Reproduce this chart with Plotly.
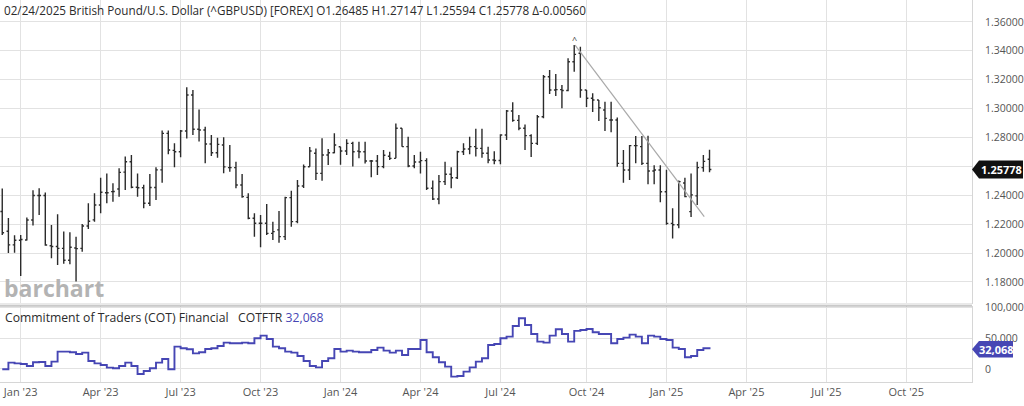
import pandas as pd
import plotly.graph_objects as go

# ---------------- data ----------------
first_week = "2022-12-12"
n_weeks = 116
dates = pd.date_range(first_week, periods=n_weeks, freq="7D")

opens = [1.2287,1.2150,1.2056,1.2088,1.2090,1.2228,1.2398,1.2398,1.2050,1.2045,
         1.2032,1.1950,1.2035,1.2032,1.2187,1.2229,1.2332,1.2417,1.2425,1.2443,
         1.2560,1.2632,1.2455,1.2452,1.2344,1.2453,1.2575,1.2828,1.2710,1.2701,
         1.2844,1.3093,1.2856,1.2851,1.2754,1.2694,1.2747,1.2591,1.2591,1.2471,
         1.2385,1.2240,1.2206,1.2206,1.2136,1.2160,1.2113,1.2383,1.2217,1.2464,
         1.2597,1.2690,1.2551,1.2678,1.2694,1.2735,1.2706,1.2759,1.2705,1.2701,
         1.2637,1.2637,1.2598,1.2670,1.2655,1.2863,1.2736,1.2602,1.2630,1.2639,
         1.2448,1.2374,1.2494,1.2545,1.2521,1.2701,1.2720,1.2736,1.2724,1.2690,
         1.2644,1.2640,1.2817,1.2983,1.2918,1.2863,1.2812,1.2759,1.2943,1.3220,
         1.3128,1.3131,1.3125,1.3324,1.3382,1.3128,1.3071,1.3059,1.2990,1.2920,
         1.2920,1.2620,1.2574,1.2743,1.2736,1.2620,1.2568,1.2574,1.2424,1.2205,
         1.2195,1.2484,1.2286,1.2395,1.2591,1.26485]
highs = [1.2446,1.2242,1.2123,1.2125,1.2246,1.2435,1.2448,1.2418,1.2194,1.2269,
         1.2148,1.2143,1.2113,1.2200,1.2344,1.2413,1.2521,1.2550,1.2482,1.2586,
         1.2668,1.2678,1.2551,1.2472,1.2547,1.2593,1.2848,1.2848,1.2760,1.2851,
         1.3147,1.3128,1.2994,1.2874,1.2817,1.2798,1.2801,1.2747,1.2632,1.2547,
         1.2413,1.2275,1.2263,1.2339,1.2217,1.2291,1.2390,1.2430,1.2505,1.2613,
         1.2733,1.2724,1.2794,1.2720,1.2828,1.2736,1.2787,1.2770,1.2770,1.2770,
         1.2644,1.2678,1.2713,1.2701,1.2897,1.2863,1.2805,1.2678,1.2701,1.2655,
         1.2501,1.2540,1.2632,1.2593,1.2708,1.2759,1.2805,1.2860,1.2860,1.2735,
         1.2705,1.2821,1.2990,1.3044,1.2955,1.2890,1.2821,1.2955,1.3232,1.3266,
         1.3239,1.3163,1.3347,1.3440,1.3428,1.3128,1.3105,1.3059,1.3047,1.3047,
         1.2937,1.2713,1.2747,1.2810,1.2810,1.2811,1.2607,1.2607,1.2576,1.2309,
         1.2501,1.2520,1.2551,1.2632,1.2678,1.27147]
lows = [1.2125,1.2000,1.2001,1.1841,1.2086,1.2190,1.2263,1.2050,1.1963,1.1917,
        1.1926,1.1922,1.1802,1.2009,1.2166,1.2217,1.2275,1.2344,1.2355,1.2390,
        1.2436,1.2448,1.2390,1.2309,1.2325,1.2367,1.2487,1.2684,1.2593,1.2662,
        1.2792,1.2817,1.2771,1.2621,1.2671,1.2660,1.2552,1.2563,1.2448,1.2383,
        1.2233,1.2113,1.2039,1.2125,1.2090,1.2071,1.2090,1.2182,1.2206,1.2450,
        1.2597,1.2505,1.2500,1.2609,1.2690,1.2611,1.2678,1.2598,1.2655,1.2620,
        1.2524,1.2540,1.2586,1.2644,1.2655,1.2736,1.2593,1.2586,1.2551,1.2436,
        1.2367,1.2337,1.2471,1.2448,1.2512,1.2678,1.2683,1.2667,1.2660,1.2621,
        1.2614,1.2615,1.2782,1.2908,1.2850,1.2713,1.2665,1.2748,1.2932,1.3100,
        1.3087,1.3002,1.3120,1.3255,1.3075,1.3010,1.2975,1.2914,1.2844,1.2835,
        1.2597,1.2486,1.2505,1.2621,1.2609,1.2476,1.2476,1.2352,1.2196,1.2100,
        1.2171,1.2385,1.2249,1.2332,1.2563,1.25594]
closes = [1.2140,1.2056,1.2088,1.2093,1.2228,1.2398,1.2398,1.2055,1.2045,1.2032,
          1.1950,1.2040,1.2030,1.2187,1.2220,1.2332,1.2420,1.2417,1.2426,1.2558,
          1.2632,1.2455,1.2452,1.2344,1.2453,1.2575,1.2828,1.2713,1.2701,1.2844,
          1.3093,1.2856,1.2851,1.2754,1.2694,1.2752,1.2596,1.2591,1.2471,1.2390,
          1.2240,1.2206,1.2206,1.2136,1.2148,1.2113,1.2383,1.2217,1.2464,1.2597,
          1.2706,1.2551,1.2678,1.2694,1.2747,1.2706,1.2759,1.2701,1.2701,1.2637,
          1.2637,1.2598,1.2676,1.2655,1.2863,1.2736,1.2602,1.2630,1.2639,1.2448,
          1.2374,1.2494,1.2545,1.2521,1.2701,1.2720,1.2736,1.2724,1.2690,1.2644,
          1.2640,1.2817,1.2983,1.2918,1.2863,1.2812,1.2759,1.2943,1.3220,1.3128,
          1.3131,1.3125,1.3324,1.3375,1.3128,1.3071,1.3059,1.3005,1.2932,1.2920,
          1.2620,1.2574,1.2743,1.2743,1.2620,1.2568,1.2574,1.2424,1.2205,1.2195,
          1.2494,1.2390,1.2402,1.2591,1.26338,1.25778]

cot = [-500,10300,9200,8200,4900,10900,11400,4900,12000,28300,
       28300,27200,24500,26600,13000,9200,6500,2200,1100,4900,
       10300,4900,-8200,-3300,1100,10300,16300,-500,36400,33700,
       32100,25500,27200,32600,33700,37500,42900,41800,41800,42900,
       41800,50000,54400,48900,36400,33700,28300,26600,21200,13000,
       4900,2700,13000,17400,32600,28300,29900,28300,27200,27200,
       31000,34800,29900,26600,29900,22800,32600,32600,47300,27200,
       19000,10900,3800,-12500,-11400,-4300,2700,12000,17400,39100,
       40800,50000,52700,70100,82600,71700,57100,44600,42900,54400,
       64700,57100,44600,62000,63600,65200,59800,57100,57100,41800,
       48900,51100,56000,52700,41800,54400,52700,48900,47300,34800,
       32600,19000,21200,31000,33700,32068]

quarter_ticks = ["2023-01-02","2023-04-03","2023-07-03","2023-10-02","2024-01-01","2024-04-01",
                 "2024-07-01","2024-10-07","2025-01-06","2025-04-07","2025-07-07","2025-10-06"]
quarter_labels = ["Jan '23","Apr '23","Jul '23","Oct '23","Jan '24","Apr '24",
                  "Jul '24","Oct '24","Jan '25","Apr '25","Jul '25","Oct '25"]
price_ticks = [1.18,1.20,1.22,1.24,1.26,1.28,1.30,1.32,1.34,1.36]
# the 1.26000 label sits under the last-price tag in the reference, so it is not shown
price_labels = ["1.18000","1.20000","1.22000","1.24000","","1.28000","1.30000","1.32000","1.34000","1.36000"]
cot_ticks = [0, 50000, 100000]
cot_labels = ["0", "50,000", "100,000"]

trend_x = ["2024-09-24", "2025-02-18"]
trend_y = [1.3439, 1.2251]

last_price = 1.25778
last_cot = 32068
title_text = ("02/24/2025 British Pound/U.S. Dollar (^GBPUSD) [FOREX] "
              "O1.26485 H1.27147 L1.25594 C1.25778 Δ-0.00560")

# ---------------- layout helpers ----------------
W, H = 1024, 406
ML, MR, MT, MB = 0, 52, 0, 24
PW, PH = W - ML - MR, H - MT - MB
MAIN_BOTTOM, COT_TOP = 304, 306
P_RANGE = [1.1647, 1.3751]
C_RANGE = [-21200, 102600]


def py(Y):
    return (PH - (Y - MT)) / PH


def px(X):
    return (X - ML) / PW


def price_to_paper(v):
    d0 = py(MAIN_BOTTOM)
    return d0 + (v - P_RANGE[0]) / (P_RANGE[1] - P_RANGE[0]) * (1 - d0)


def cot_to_paper(v):
    d1 = py(COT_TOP)
    return (v - C_RANGE[0]) / (C_RANGE[1] - C_RANGE[0]) * d1


GRID = "#e2e2e2"
TXT = "#555555"
BLUE = "#4646b4"
FONT = "Open Sans"

fig = go.Figure()
fig.add_trace(go.Ohlc(x=dates, open=opens, high=highs, low=lows, close=closes,
                      increasing=dict(line=dict(color="#2b2b2b", width=1.4)),
                      decreasing=dict(line=dict(color="#2b2b2b", width=1.4)),
                      tickwidth=0.3, xaxis="x", yaxis="y", hoverinfo="skip"))
fig.add_trace(go.Scatter(x=trend_x, y=trend_y, mode="lines",
                         line=dict(color="#a9a9a9", width=1.2),
                         xaxis="x", yaxis="y", hoverinfo="skip"))
fig.add_trace(go.Scatter(x=dates, y=cot, mode="lines", line_shape="hv",
                         line=dict(color=BLUE, width=1.9),
                         xaxis="x2", yaxis="y2", hoverinfo="skip"))

x0 = pd.Timestamp("2023-01-02") - pd.Timedelta(days=20.7 / 0.8786)
x1 = pd.Timestamp("2023-01-02") + pd.Timedelta(days=(PW - 20.7) / 0.8786)

common_x = dict(type="date", range=[x0, x1], tickvals=quarter_ticks, ticktext=quarter_labels,
                showgrid=True, gridcolor=GRID, gridwidth=1, zeroline=False, automargin=False,
                rangeslider=dict(visible=False), fixedrange=True)
common_y = dict(side="right", ticks="", ticklabelstandoff=10, automargin=False,
                tickfont=dict(family=FONT, size=10.5, color=TXT),
                showgrid=True, gridcolor=GRID, zeroline=False,
                showline=True, linecolor="#d6d6d6", fixedrange=True)

fig.update_layout(
    template="none",
    width=W, height=H,
    margin=dict(l=ML, r=MR, t=MT, b=MB, pad=0, autoexpand=False),
    paper_bgcolor="white", plot_bgcolor="white",
    showlegend=False,
    font=dict(family=FONT, size=11, color=TXT),
    xaxis=dict(domain=[0, 1], anchor="y", showticklabels=False, showline=False, **common_x),
    xaxis2=dict(domain=[0, 1], anchor="y2", matches="x", showticklabels=True,
                tickfont=dict(family=FONT, size=11, color=TXT), ticks="",
                showline=True, linecolor="#d6d6d6", linewidth=1, **common_x),
    yaxis=dict(domain=[py(MAIN_BOTTOM), 1], range=P_RANGE,
               tickvals=price_ticks, ticktext=price_labels, **common_y),
    yaxis2=dict(domain=[0, py(COT_TOP)], range=C_RANGE,
                tickvals=cot_ticks, ticktext=cot_labels, **common_y),
)

# panel separator
fig.add_shape(type="rect", xref="paper", yref="paper", x0=0, x1=1, y0=py(306), y1=py(303),
              fillcolor="#e9e9e9", line=dict(width=0), layer="above")
fig.add_shape(type="line", xref="paper", yref="paper", x0=0, x1=1, y0=py(306), y1=py(306),
              line=dict(color="#a8a8a8", width=1))

# last price tag
pp = price_to_paper(last_price)
hp = 9 / PH
fig.add_shape(type="path", xref="paper", yref="paper",
              path=(f"M 1.0 {pp} L {px(979)} {pp + hp} L {px(1023)} {pp + hp} "
                    f"L {px(1023)} {pp - hp} L {px(979)} {pp - hp} Z"),
              fillcolor="#111111", line=dict(width=0))
fig.add_annotation(xref="paper", yref="paper", x=px(1001), y=pp, xanchor="center", yanchor="middle",
                   text="<b>%.5f</b>" % last_price,
                   showarrow=False, font=dict(family=FONT, size=11, color="white"))

# COT tag
cp = cot_to_paper(last_cot)
hc = 8.3 / PH
fig.add_shape(type="path", xref="paper", yref="paper",
              path=(f"M 1.0 {cp} L {px(979)} {cp + hc} L {px(1013)} {cp + hc} "
                    f"L {px(1013)} {cp - hc} L {px(979)} {cp - hc} Z"),
              fillcolor=BLUE, line=dict(width=0))
fig.add_annotation(xref="paper", yref="paper", x=px(996), y=cp, xanchor="center", yanchor="middle",
                   text="<b>{:,}</b>".format(last_cot),
                   showarrow=False, font=dict(family=FONT, size=11, color="white"))

# titles
fig.add_annotation(xref="paper", yref="paper", x=px(2), y=py(10), xanchor="left", yanchor="middle",
                   text=title_text, showarrow=False, font=dict(family=FONT, size=11.7, color="#2b2b2b"))
fig.add_annotation(xref="paper", yref="paper", x=px(3), y=py(317), xanchor="left", yanchor="middle",
                   text=("Commitment of Traders (COT) Financial&nbsp;&nbsp;&nbsp;COTFTR "
                         f"<span style='color:{BLUE}'>{last_cot:,}</span>"),
                   showarrow=False, font=dict(family=FONT, size=12.2, color="#2b2b2b"))

# peak marker
fig.add_annotation(xref="x", yref="y", x=dates[highs.index(max(highs))], y=max(highs),
                   text="^", showarrow=False, yanchor="bottom", yshift=-3,
                   font=dict(family=FONT, size=9, color="#333"))

# watermark
fig.add_annotation(xref="paper", yref="paper", x=px(2), y=py(306), xanchor="left", yanchor="bottom",
                   text="barchart", showarrow=False,
                   font=dict(family=FONT, size=23, color="#b3b3b3", weight="bold"))

fig.write_html("out.html", config=dict(displayModeBar=False, staticPlot=True))
